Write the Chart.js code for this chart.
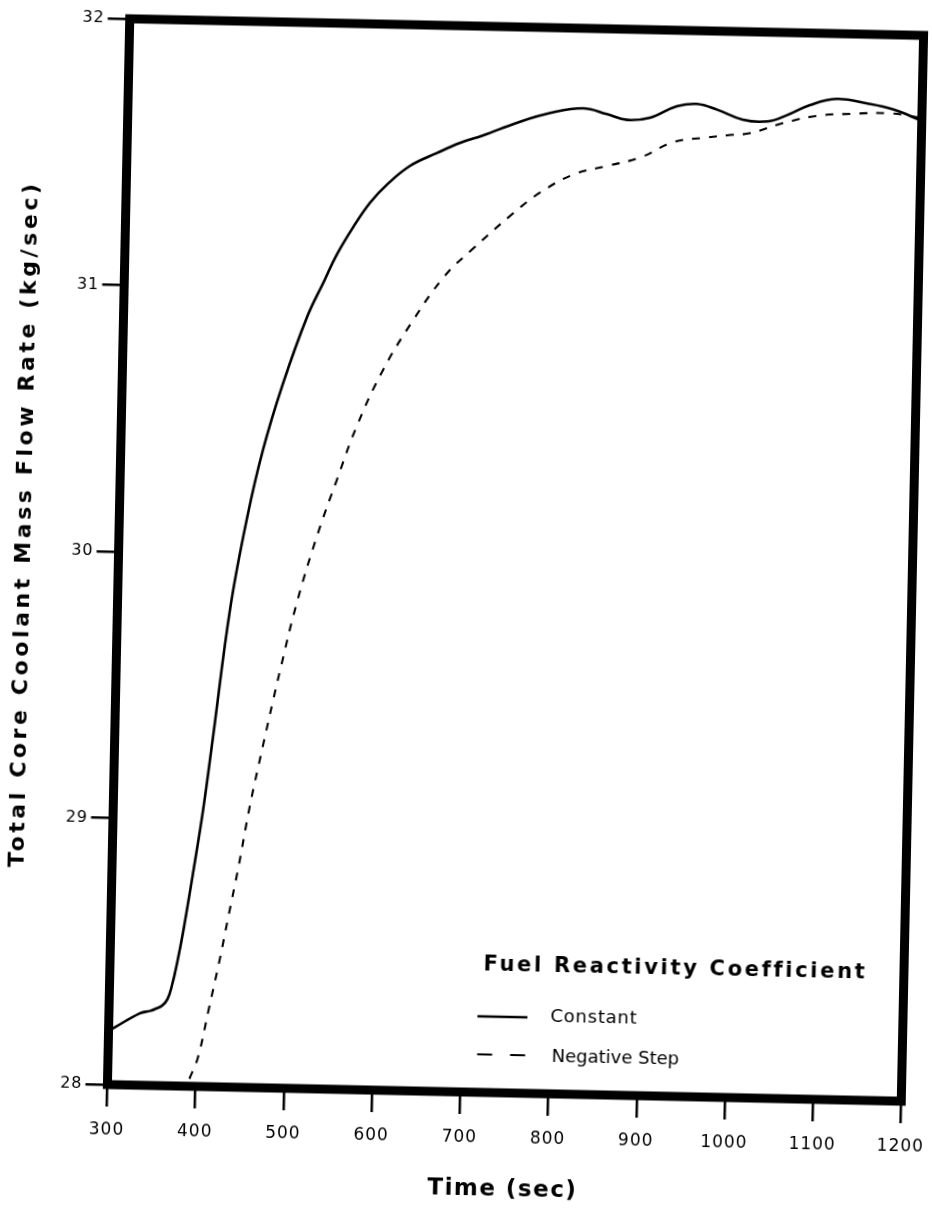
<!DOCTYPE html>
<html><head><meta charset="utf-8">
<script src="https://cdn.jsdelivr.net/npm/chart.js@4.4.1/dist/chart.umd.min.js"></script>
<style>
html,body{margin:0;padding:0;background:#fff;overflow:hidden}
#wrap{position:absolute;left:0;top:0;width:960px;height:1211px;transform:rotate(1.2deg);transform-origin:515.5px 560px}
</style></head><body>
<div id="wrap"><canvas id="c" width="960" height="1211"></canvas></div>
<script>
// ---- data ----
const timeConstant = [300, 307, 335, 347, 354, 360, 366, 371, 376, 382, 392, 402, 411, 428, 445, 461, 482, 508, 527, 540, 558, 577, 596, 621, 651, 677, 703, 741, 779, 816, 843, 866, 892, 922, 945, 968, 997, 1025, 1047, 1073, 1103, 1138, 1167, 1200];
const flowConstant = [28.20, 28.215, 28.27, 28.28, 28.29, 28.30, 28.325, 28.38, 28.46, 28.575, 28.80, 29.04, 29.30, 29.80, 30.14, 30.39, 30.64, 30.895, 31.035, 31.13, 31.235, 31.33, 31.40, 31.47, 31.52, 31.56, 31.59, 31.64, 31.68, 31.70, 31.68, 31.66, 31.67, 31.715, 31.725, 31.705, 31.67, 31.665, 31.69, 31.73, 31.755, 31.74, 31.72, 31.68];
const timeNegStep = [385, 393, 402, 413, 425, 432, 443, 455, 468, 479, 486, 503, 525, 546, 567, 595, 628, 663, 693, 739, 769, 806, 844, 882, 919, 957, 980, 1006, 1043, 1081, 1119, 1164, 1200];
const flowNegStep = [27.97, 28.03, 28.11, 28.29, 28.49, 28.62, 28.82, 29.06, 29.28, 29.46, 29.57, 29.82, 30.08, 30.29, 30.49, 30.70, 30.89, 31.06, 31.16, 31.30, 31.38, 31.45, 31.485, 31.52, 31.58, 31.60, 31.61, 31.62, 31.66, 31.69, 31.70, 31.705, 31.69];
const xTicks = [300, 400, 500, 600, 700, 800, 900, 1000, 1100, 1200];
const yTicks = [28, 29, 30, 31, 32];
const seriesNames = ['Constant', 'Negative Step'];
const legendTitle = 'Fuel Reactivity Coefficient';
const xTitle = 'Time (sec)';
const yTitle = 'Total Core Coolant Mass Flow Rate (kg/sec)';

const FONT = '"DejaVu Sans", "Liberation Sans", sans-serif';
const toXY = (xs, ys) => xs.map((x, i) => ({x, y: ys[i]}));

function fitText(ctx, text, x, y, target, align) {
  ctx.letterSpacing = '0px';
  const w = ctx.measureText(text).width;
  const sp = Math.max(0, (target - w) / text.length);
  ctx.letterSpacing = sp + 'px';
  ctx.textAlign = align;
  ctx.fillText(text, x, y);
  ctx.letterSpacing = '0px';
}

// draw an axis title with extra letter spacing and an optional shift
function patchTitle(s, spacing, shiftY) {
  if (s._titlePatched) return;
  const orig = s.drawTitle.bind(s);
  s.drawTitle = function () {
    const c = this.ctx;
    c.save();
    const prev = c.letterSpacing;
    c.letterSpacing = spacing + 'px';
    c.translate(0, shiftY);
    orig();
    c.letterSpacing = prev;
    c.restore();
  };
  s._titlePatched = true;
}

const framePlugin = {
  id: 'frame',
  beforeDraw(chart) { chart.ctx.letterSpacing = '1px'; },
  afterDraw(chart) {
    const ctx = chart.ctx, a = chart.chartArea;
    ctx.save();
    ctx.letterSpacing = '0px';
    ctx.strokeStyle = '#000';
    ctx.lineWidth = 9;
    ctx.lineJoin = 'miter';
    ctx.strokeRect(a.left, a.top, a.right - a.left, a.bottom - a.top);
    // legend inside plot
    ctx.fillStyle = '#000';
    ctx.textBaseline = 'middle';
    ctx.font = 'bold 21px ' + FONT;
    fitText(ctx, legendTitle, a.left + 565.5, a.bottom - 127, 382, 'center');
    ctx.lineWidth = 2.5;
    ctx.beginPath();
    ctx.moveTo(a.left + 368.5, a.bottom - 76);
    ctx.lineTo(a.left + 418.5, a.bottom - 76);
    ctx.stroke();
    ctx.setLineDash([15, 18]);
    ctx.lineWidth = 2.2;
    ctx.beginPath();
    ctx.moveTo(a.left + 369, a.bottom - 38);
    ctx.lineTo(a.left + 418.5, a.bottom - 38);
    ctx.stroke();
    ctx.setLineDash([]);
    ctx.font = '18px ' + FONT;
    fitText(ctx, seriesNames[0], a.left + 441.5, a.bottom - 77, 87, 'left');
    fitText(ctx, seriesNames[1], a.left + 443.5, a.bottom - 37, 125, 'left');
    ctx.restore();
    ctx.letterSpacing = '0px';
  }
};

new Chart(document.getElementById('c'), {
  type: 'line',
  data: {
    datasets: [
      { label: seriesNames[0], data: toXY(timeConstant, flowConstant), borderColor: '#000', borderWidth: 2.6,
        pointRadius: 0, tension: 0.4, fill: false },
      { label: seriesNames[1], data: toXY(timeNegStep, flowNegStep), borderColor: '#000', borderWidth: 2.1,
        borderDash: [8, 9], pointRadius: 0, tension: 0.4, fill: false }
    ]
  },
  options: {
    responsive: false,
    animation: false,
    events: [],
    layout: { padding: { top: 27, right: 47.5, left: 0, bottom: 0 } },
    plugins: { legend: { display: false }, tooltip: { enabled: false } },
    scales: {
      x: {
        type: 'linear', min: xTicks[0], max: xTicks[xTicks.length - 1],
        afterFit(s) { s.height = 118; s.paddingLeft = 0; s.paddingRight = 0; patchTitle(s, 1.5, 0); },
        afterBuildTicks(s) { s.ticks = xTicks.map(v => ({value: v})); },
        grid: { drawOnChartArea: false, drawTicks: true, tickLength: 22, color: '#000', lineWidth: 2.5 },
        border: { display: false },
        ticks: { color: '#000', font: { family: FONT, size: 17 }, padding: 13, maxRotation: 0, callback: v => String(v) },
        title: { display: true, text: xTitle, color: '#000', font: { family: FONT, size: 23, weight: 'bold' }, padding: { top: 0, bottom: 7 } }
      },
      y: {
        type: 'linear', min: yTicks[0], max: yTicks[yTicks.length - 1],
        afterFit(s) { s.width = 118.5; s.paddingTop = 0; s.paddingBottom = 0; patchTitle(s, 3.6, -26); },
        afterBuildTicks(s) { s.ticks = yTicks.map(v => ({value: v})); },
        grid: { drawOnChartArea: false, drawTicks: true, tickLength: 22, color: '#000', lineWidth: 2.5 },
        border: { display: false },
        ticks: { color: '#000', font: { family: FONT, size: 16 }, padding: 3, callback: v => String(v) },
        title: { display: true, text: yTitle, color: '#000', font: { family: FONT, size: 22, weight: 'bold' }, padding: { top: 11, bottom: 0 } }
      }
    }
  },
  plugins: [framePlugin]
});
</script>
</body></html>
